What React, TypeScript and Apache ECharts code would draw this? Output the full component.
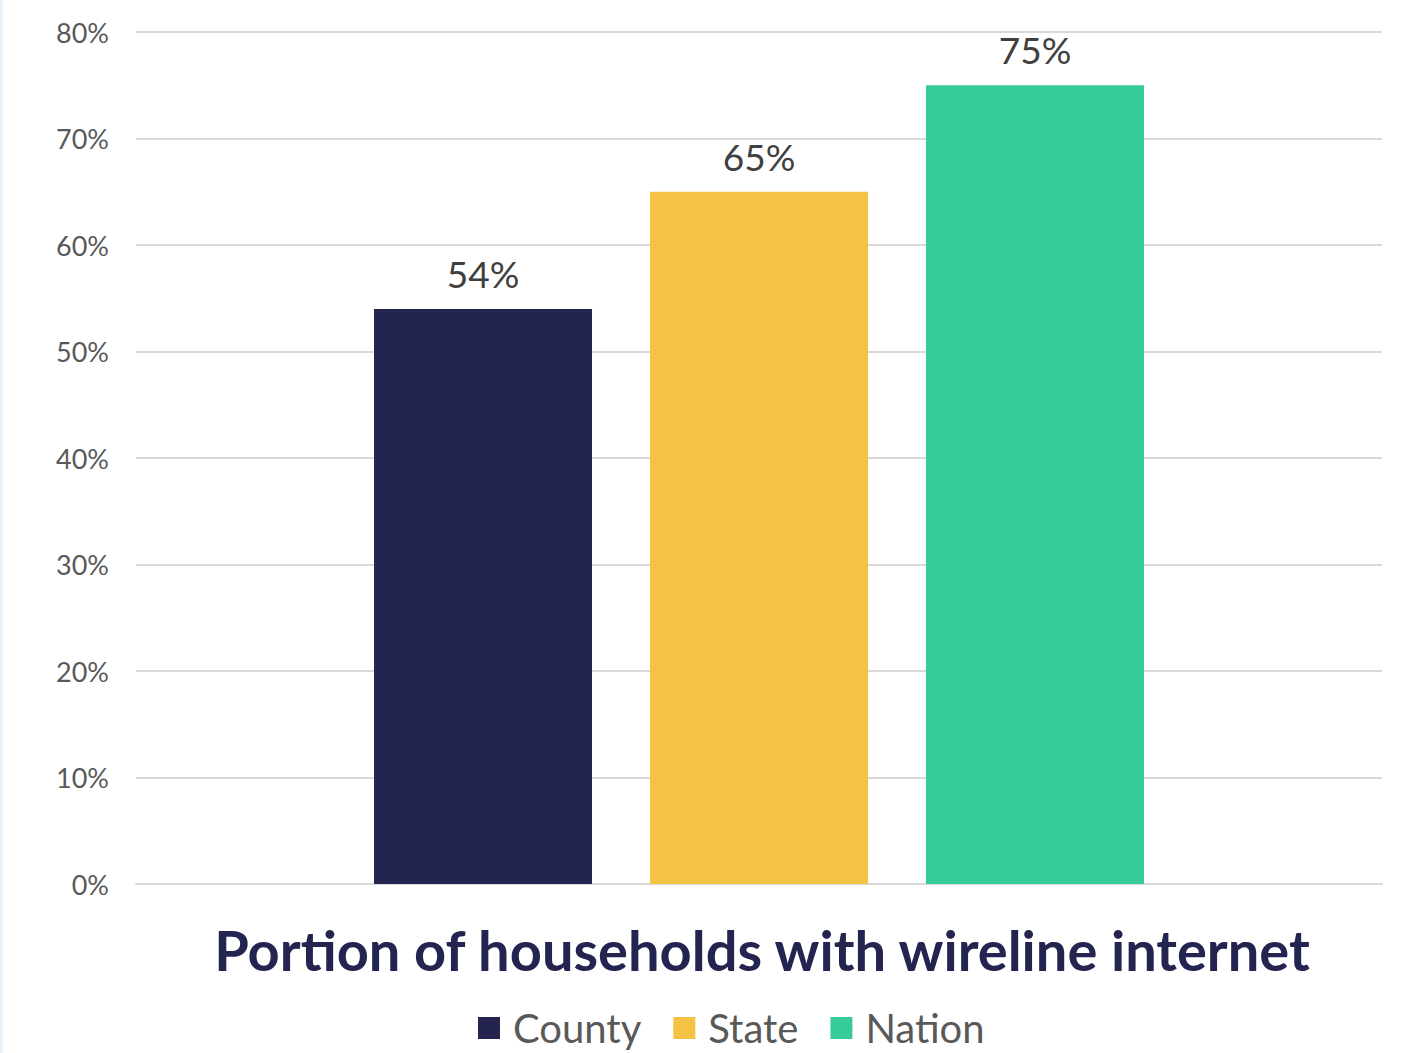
import React, { useEffect, useRef } from "react";
import * as echarts from "echarts";

const categories = [""];
const seriesNames = ["County", "State", "Nation"];
const seriesValues = [54, 65, 75];
const seriesColors = ["#232450", "#F4C344", "#35CC98"];
const yTicks = { min: 0, max: 80, interval: 10 };
const titleText = "Portion of households with wireline internet";

export default function App() {
  const ref = useRef<HTMLDivElement>(null);
  useEffect(() => {
    if (!ref.current) return;
    const chart = echarts.init(ref.current, null, { renderer: "svg" });
    const font = "Lato, 'Open Sans', sans-serif";
    chart.setOption({
      animation: false,
      backgroundColor: "#ffffff",
      textStyle: { fontFamily: font },
      title: {
        text: titleText,
        left: 754,
        textAlign: "center",
        top: 916,
        textStyle: { fontFamily: font, fontSize: 56, fontWeight: "bold", color: "#232450" },
      },
      legend: {
        data: seriesNames,
        bottom: 0,
        left: 470,
        icon: "rect",
        itemWidth: 22,
        itemHeight: 22,
        itemGap: 32,
        textStyle: { fontFamily: font, fontSize: 40, color: "#595959", padding: [0, 0, 0, 8] },
      },
      grid: { left: 133, right: 28, top: 32, bottom: 169, containLabel: false },
      xAxis: {
        type: "category",
        data: categories,
        axisLine: { show: true, lineStyle: { color: "#d9d9d9", width: 2 } },
        axisTick: { show: false },
        axisLabel: { show: false },
      },
      yAxis: {
        type: "value",
        min: yTicks.min,
        max: yTicks.max,
        interval: yTicks.interval,
        axisLine: { show: false },
        axisTick: { show: false },
        axisLabel: {
          formatter: "{value}%",
          fontFamily: font,
          fontSize: 27,
          color: "#595959",
          margin: 27,
        },
        splitLine: { lineStyle: { color: "#d9d9d9", width: 2 } },
      },
      series: seriesNames.map((name, i) => ({
        name,
        type: "bar",
        data: [seriesValues[i]],
        barWidth: 218,
        barGap: "26.6%",
        itemStyle: { color: seriesColors[i] },
        label: {
          show: true,
          position: "top",
          distance: 17,
          formatter: "{c}%",
          fontFamily: font,
          fontSize: 37,
          color: "#404040",
        },
      })),
    });
    return () => chart.dispose();
  }, []);
  return (
    <div
      style={{ position: "absolute", left: 0, top: 0, width: 1410, height: 1053, background: "#fff" }}
    >
      <div style={{ position: "absolute", left: 0, top: 0, width: 3, height: 1053, background: "#EAF4FC" }} />
      <div ref={ref} style={{ position: "absolute", left: 3, top: 0, width: 1407, height: 1053 }} />
    </div>
  );
}
